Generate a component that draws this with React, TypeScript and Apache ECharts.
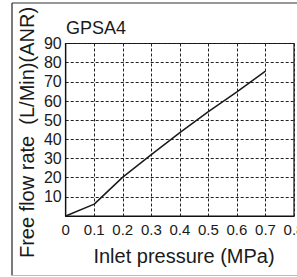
import React, { useEffect, useRef } from "react";
import * as echarts from "echarts";

const pressure = [0, 0.1, 0.2, 0.3, 0.4, 0.5, 0.6, 0.7];
const flowRate = [0, 6.2, 20.3, 32, 43.5, 54.5, 64.8, 75.6];
const titleText = "GPSA4";
const xName = "Inlet pressure (MPa)";
const yName = "Free flow rate  (L/Min)(ANR)";

const FONT = "'Liberation Sans', Arial, Helvetica, sans-serif";

export default function App() {
  const ref = useRef<HTMLDivElement>(null);
  useEffect(() => {
    if (!ref.current) return;
    const chart = echarts.init(ref.current, undefined, { renderer: "svg" });
    chart.setOption({
      animation: false,
      backgroundColor: "#ffffff",
      title: {
        text: titleText,
        left: 66,
        top: 19,
        padding: 0,
        textStyle: { fontFamily: FONT, fontSize: 18, fontWeight: "normal", color: "#1a1a1a" },
      },
      grid: {
        left: 65.7,
        right: 3,
        top: 43.5,
        bottom: 61,
        containLabel: false,
        outerBoundsMode: "none",
        show: true,
        borderColor: "#111",
        borderWidth: 1.2,
        backgroundColor: "transparent",
      },
      xAxis: {
        type: "value",
        min: 0,
        max: 0.8,
        interval: 0.1,
        axisLine: { show: true, lineStyle: { color: "#111", width: 1.2 } },
        axisTick: { show: false },
        splitLine: { show: true, lineStyle: { color: "#222", type: [3, 2], width: 1 } },
        axisLabel: {
          margin: 6,
          fontFamily: FONT,
          fontSize: 15,
          color: "#1a1a1a",
          hideOverlap: false,
          formatter: (v: number) => (v === 0 ? "0" : v.toFixed(1)),
        },
      },
      yAxis: {
        type: "value",
        min: 0,
        max: 90,
        interval: 10,
        axisLine: { show: true, lineStyle: { color: "#111", width: 1.2 } },
        axisTick: { show: false },
        splitLine: { show: true, lineStyle: { color: "#222", type: [3, 2], width: 1 } },
        axisLabel: {
          margin: 4,
          fontFamily: FONT,
          fontSize: 16,
          color: "#1a1a1a",
          showMinLabel: false,
        },
      },
      graphic: [
        {
          type: "line",
          shape: { x1: 12, y1: 3, x2: 12, y2: 275.5 },
          style: { stroke: "#222", lineWidth: 1.2 },
        },
        {
          type: "line",
          shape: { x1: 12, y1: 3, x2: 297, y2: 3 },
          style: { stroke: "#333", lineWidth: 1.2 },
        },
        {
          type: "line",
          shape: { x1: 12, y1: 275.5, x2: 297, y2: 275.5 },
          style: { stroke: "#bbb", lineWidth: 1 },
        },
        {
          type: "text",
          x: 27,
          y: 132.5,
          rotation: Math.PI / 2,
          style: {
            text: yName,
            fontFamily: FONT,
            fontSize: 20,
            fill: "#1a1a1a",
            align: "center",
            verticalAlign: "middle",
          },
        },
        {
          type: "text",
          x: 184,
          y: 256,
          style: {
            text: xName,
            fontFamily: FONT,
            fontSize: 20,
            fill: "#1a1a1a",
            align: "center",
            verticalAlign: "middle",
          },
        },
      ],
      series: [
        {
          type: "line",
          data: pressure.map((p, i) => [p, flowRate[i]]),
          showSymbol: false,
          symbol: "none",
          lineStyle: { color: "#1a1a1a", width: 1.5 },
        },
      ],
    });
    return () => chart.dispose();
  }, []);
  return (
    <div
      ref={ref}
      style={{ position: "fixed", left: 0, top: 0, width: 297, height: 277 }}
    />
  );
}
